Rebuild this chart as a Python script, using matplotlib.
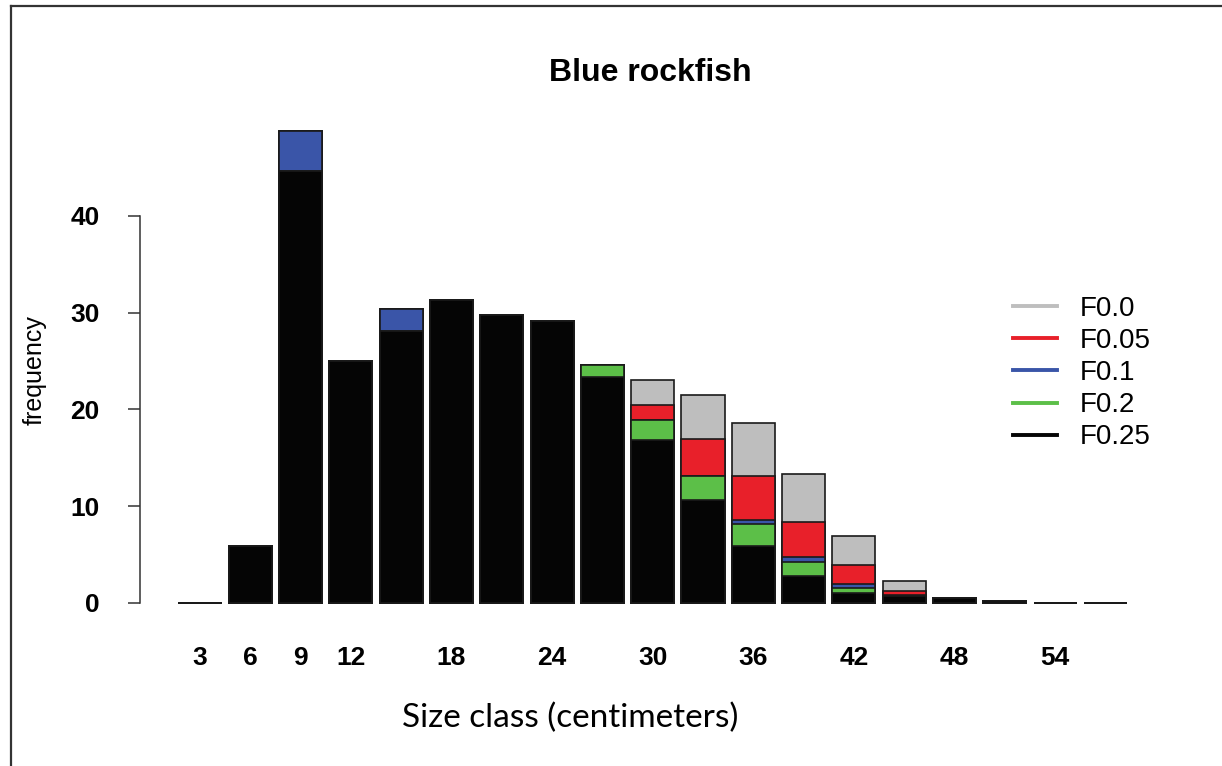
import matplotlib
matplotlib.use("Agg")
import matplotlib.pyplot as plt
from matplotlib.lines import Line2D

W, H = 1222, 766

# size classes (cm) and frequencies per fishing rate
size_class = [3, 6, 9, 12, 15, 18, 21, 24, 27, 30, 33, 36, 39, 42, 45, 48, 51, 54, 57]
f00 = [0.05, 5.85, 48.8, 25.0, 30.4, 31.3, 29.8, 29.1, 24.6, 23.1, 21.5, 18.6, 13.3, 6.9, 2.25, 0.55, 0.25, 0.05, 0.05]
f005 = [0.05, 5.85, 48.8, 25.0, 30.4, 31.3, 29.8, 29.1, 24.6, 20.5, 17.0, 13.1, 8.35, 3.9, 1.2, 0.55, 0.25, 0.05, 0.05]
f01 = [0.05, 5.85, 48.8, 25.0, 30.4, 31.3, 29.8, 29.1, 24.6, 18.9, 13.1, 8.6, 4.75, 2.0, 0.8, 0.55, 0.25, 0.05, 0.05]
f02 = [0.05, 5.85, 44.6, 25.0, 28.1, 31.3, 29.8, 29.1, 24.6, 18.9, 13.1, 8.2, 4.2, 1.6, 0.75, 0.55, 0.25, 0.05, 0.05]
f025 = [0.05, 5.85, 44.6, 25.0, 28.1, 31.3, 29.8, 29.1, 23.4, 16.8, 10.6, 5.85, 2.75, 1.05, 0.75, 0.55, 0.25, 0.05, 0.05]

series = [("F0.0", f00, "#bebebe"),
          ("F0.05", f005, "#e8202a"),
          ("F0.1", f01, "#3a55a8"),
          ("F0.2", f02, "#5cbf48"),
          ("F0.25", f025, "#050505")]

shown_labels = [3, 6, 9, 12, 18, 24, 30, 36, 42, 48, 54]
y_ticks = [0, 10, 20, 30, 40]

fig = plt.figure(figsize=(W / 100, H / 100), dpi=100)

# axes placed so that bar 0 sits at x=200px and frequency 0..40 spans 603..216px
ax_l, ax_r, ax_t, ax_b = 140, 1150, 110, 620
ax = fig.add_axes([ax_l / W, 1 - ax_b / H, (ax_r - ax_l) / W, (ax_b - ax_t) / H])
step = 50.3
unit = (603 - 216) / 40
ax.set_xlim((ax_l - 200) / step, (ax_r - 200) / step)
ax.set_ylim(-(ax_b - 603) / unit, (603 - ax_t) / unit)

x = list(range(len(size_class)))
for name, vals, col in series:
    ax.bar(x, vals, width=0.855, color=col, edgecolor="#1a1a1a", linewidth=1.2)

for s in ["top", "right", "bottom"]:
    ax.spines[s].set_visible(False)
ax.spines["left"].set_bounds(0, 40)
ax.spines["left"].set_color("#333333")
ax.spines["left"].set_linewidth(1.1)

ax.set_yticks(y_ticks)
ax.set_yticklabels([str(v) for v in y_ticks], family="Liberation Sans",
                   fontweight="bold", fontsize=19)
ax.tick_params(axis="y", length=9, width=1.1, color="#333333", pad=20)

ax.set_xticks([size_class.index(v) for v in shown_labels])
ax.set_xticklabels([str(v) for v in shown_labels], family="Liberation Sans",
                   fontweight="bold", fontsize=19)
ax.tick_params(axis="x", length=0, pad=19)

fig.text(650 / W, 1 - 73 / H, "Blue rockfish", family="Liberation Sans",
         fontweight="bold", fontsize=23, ha="center", va="center")
fig.text(35 / W, 1 - 370 / H, "frequency", family="Liberation Sans",
         fontsize=18, rotation=90, ha="center", va="center")
fig.text(570 / W, 1 - 718 / H, "Size class (centimeters)", family="Lato",
         fontsize=24, ha="center", va="center")

# legend drawn as plain lines
handles = [Line2D([], [], color=col, lw=2.8) for _, _, col in series]
fig.legend(handles, [n for n, _, _ in series], loc="upper left",
           bbox_to_anchor=(1013 / W, 1 - 296 / H), frameon=False,
           prop={"family": "Liberation Sans", "size": 20},
           handlelength=1.6, handletextpad=0.8, labelspacing=0.22,
           borderpad=0, borderaxespad=0)

# frame around the figure (left and top edges only)
fig.add_artist(Line2D([11 / W, 11 / W], [0, 1 - 6 / H], color="#333333",
                      lw=1.6, transform=fig.transFigure))
fig.add_artist(Line2D([11 / W, 1], [1 - 6 / H, 1 - 6 / H], color="#333333",
                      lw=1.6, transform=fig.transFigure))

fig.savefig("out.png", dpi=100)
